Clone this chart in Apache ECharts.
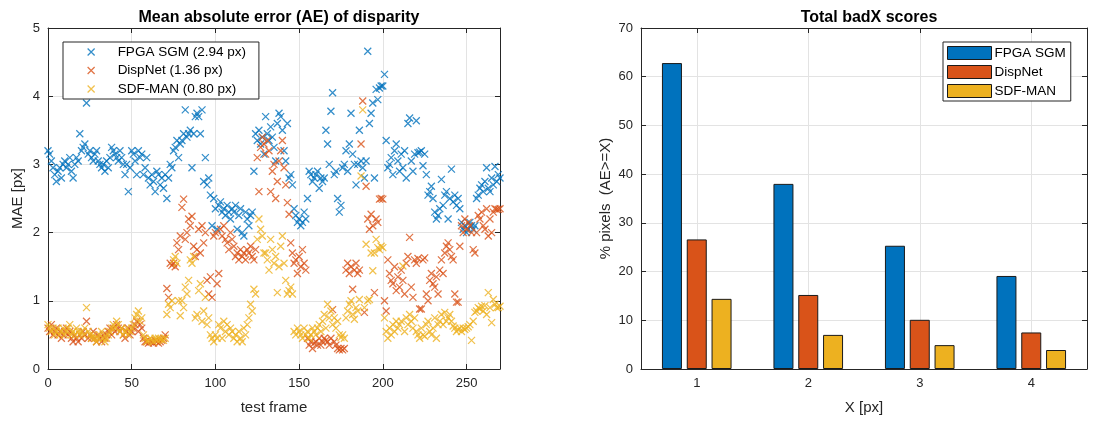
<!DOCTYPE html>
<html>
<head>
<meta charset="utf-8">
<script src="https://cdn.jsdelivr.net/npm/echarts@6/dist/echarts.min.js"></script>
<style>
  html, body { margin: 0; padding: 0; background: #fff; }
  #chart { width: 1094px; height: 421px; }
</style>
</head>
<body>
<div id="chart"></div>
<script>
// Per-frame mean absolute error of disparity, frames 0..270
const maeFPGA = [
  3.2, 3.15, 3.05, 2.95, 2.85, 2.75, 2.9, 2.95, 2.8, 3.0,
  3.05, 2.95, 3.0, 3.1, 2.9, 2.8, 3.0, 3.1, 3.05, 3.45,
  3.2, 3.25, 3.3, 3.9, 3.15, 3.2, 3.1, 3.05, 3.15, 3.2,
  3.05, 3.0, 2.95, 3.0, 2.9, 3.05, 2.95, 3.1, 3.25, 3.2,
  3.15, 3.1, 3.05, 3.2, 3.1, 3.0, 2.85, 3.0, 2.6, 2.95,
  3.2, 3.15, 3.05, 2.85, 3.2, 3.1, 3.15, 2.85, 2.95, 3.1,
  2.8, 2.7, 2.85, 2.75, 2.6, 2.9, 2.85, 2.7, 2.8, 2.65,
  2.85, 2.5, 2.8, 3.0, 2.95, 3.2, 3.25, 3.35, 3.1, 3.3,
  3.35, 3.45, 3.8, 3.4, 3.45, 3.5, 2.95, 3.45, 3.7, 3.75,
  3.7, 3.45, 3.8, 2.75, 3.1, 2.7, 2.8, 2.55, 2.1, 2.5,
  2.35, 2.05, 2.4, 2.45, 2.3, 2.35, 2.25, 2.4, 2.3, 2.2,
  2.35, 2.3, 2.4, 2.05, 2.25, 2.35, 2.0, 1.95, 2.3, 2.2,
  2.1, 2.25, 2.3, 2.9, 3.45, 3.35, 3.5, 3.3, 3.4, 3.15,
  3.7, 3.45, 3.35, 3.55, 3.4, 3.25, 3.05, 3.6, 3.75, 3.7,
  3.5, 3.2, 3.05, 3.6, 2.8, 2.85, 2.7, 2.35, 2.25, 2.15,
  2.2, 2.1, 2.15, 2.3, 2.2, 2.5, 2.9, 2.85, 2.75, 2.8,
  2.85, 2.9, 2.65, 2.8, 2.75, 2.8, 3.5, 3.3, 3.0, 3.78,
  4.05, 2.85, 2.9, 2.5, 2.3, 2.4, 2.95, 3.0, 3.2, 2.9,
  3.3, 3.75, 3.15, 3.0, 2.7, 3.0, 3.5, 3.05, 2.95, 2.8,
  3.05, 4.66, 3.6, 3.75, 3.9, 2.8, 4.1, 3.95, 4.12, 4.15,
  4.15, 4.32, 3.35, 2.95, 3.0, 3.1, 2.85, 3.2, 3.3, 3.05,
  2.9, 3.15, 2.95, 3.2, 2.8, 3.6, 3.68, 3.05, 2.9, 3.15,
  3.64, 3.17, 3.18, 3.2, 2.98, 3.15, 2.85, 2.55, 2.6, 2.68,
  2.5, 2.3, 2.2, 2.25, 2.35, 2.78, 2.4, 2.55, 2.6, 2.2,
  2.5, 2.93, 2.45, 2.55, 2.4, 2.5, 2.35, 2.15, 2.05, 2.1,
  2.0, 2.05, 2.15, 2.1, 2.05, 2.1, 2.5, 2.55, 2.65, 2.7,
  2.6, 2.75, 2.95, 2.65, 2.6, 2.8, 2.7, 2.97, 2.75, 2.85, 2.8
];
const maeDispNet = [
  0.6, 0.55, 0.65, 0.5, 0.55, 0.6, 0.5, 0.55, 0.45, 0.5,
  0.55, 0.6, 0.5, 0.55, 0.45, 0.4, 0.5, 0.45, 0.4, 0.5,
  0.45, 0.55, 0.5, 0.7, 0.45, 0.5, 0.45, 0.55, 0.45, 0.4,
  0.5, 0.45, 0.4, 0.5, 0.45, 0.5, 0.55, 0.6, 0.5, 0.6,
  0.55, 0.65, 0.6, 0.55, 0.6, 0.5, 0.45, 0.55, 0.6, 0.5,
  0.55, 0.6, 0.65, 0.7, 0.55, 0.65, 0.6, 0.45, 0.4, 0.4,
  0.38, 0.4, 0.4, 0.38, 0.42, 0.4, 0.38, 0.4, 0.42, 0.45,
  0.5, 1.18, 1.05, 1.55, 1.52, 1.55, 1.5, 1.85, 1.75, 1.95,
  2.37, 2.49, 1.9, 2.0, 2.2, 2.1, 2.24, 1.8, 1.65, 1.75,
  2.05, 1.7, 2.1, 1.85, 2.0, 1.3, 1.1, 1.35, 1.05, 1.95,
  2.0, 1.25, 1.4, 2.05, 1.95, 2.1, 1.9, 1.85, 1.75, 2.0,
  1.9, 1.8, 1.65, 1.7, 1.6, 1.75, 1.65, 1.7, 1.6, 1.75,
  1.7, 1.8, 1.65, 1.6, 1.75, 3.1, 2.6, 3.25, 3.4, 3.3,
  3.15, 3.35, 3.2, 2.6, 2.9, 3.0, 2.5, 2.75, 3.05, 3.2,
  3.35, 2.95, 2.7, 2.44, 2.27, 1.85, 1.7, 1.55, 1.6, 1.4,
  1.65, 1.5, 1.75, 1.55, 1.45, 0.45, 0.35, 0.4, 0.3, 0.38,
  0.4, 0.35, 0.45, 0.35, 0.4, 0.45, 0.42, 0.4, 0.35, 0.45,
  0.87, 0.4, 0.35, 0.3, 0.28, 0.3, 0.28, 0.3, 1.45, 1.55,
  1.4, 1.5, 1.17, 1.45, 1.55, 1.4, 1.45, 3.3, 3.93, 0.83,
  2.68, 2.2, 2.05, 2.27, 2.1, 1.12, 2.2, 2.15, 2.49, 2.5,
  2.49, 1.0, 0.85, 1.6, 1.4, 1.3, 1.25, 1.5, 1.15, 1.35,
  1.2, 1.45, 1.3, 1.1, 1.55, 1.65, 1.93, 1.2, 1.05, 1.6,
  1.55, 1.62, 0.88, 0.88, 1.6, 1.63, 1.1, 1.0, 1.3, 1.4,
  1.25, 1.2, 1.35, 1.1, 1.45, 1.6, 1.4, 1.7, 1.8, 1.85,
  1.75, 1.65, 1.6, 1.1, 0.98, 0.98, 1.8, 2.1, 2.0, 2.2,
  2.05, 2.15, 2.1, 2.0, 1.75, 1.7, 2.0, 2.25, 2.2, 2.3,
  2.1, 2.05, 2.35, 1.95, 2.2, 2.0, 2.3, 2.35, 2.34, 2.34, 2.35
];
const maeSDF = [
  0.65, 0.6, 0.55, 0.6, 0.5, 0.55, 0.6, 0.5, 0.55, 0.6,
  0.5, 0.55, 0.6, 0.65, 0.5, 0.55, 0.5, 0.6, 0.55, 0.5,
  0.55, 0.5, 0.6, 0.9, 0.55, 0.5, 0.45, 0.5, 0.45, 0.4,
  0.45, 0.5, 0.55, 0.45, 0.4, 0.45, 0.5, 0.55, 0.6, 0.65,
  0.6, 0.7, 0.65, 0.55, 0.6, 0.5, 0.55, 0.6, 0.5, 0.55,
  0.6, 0.65, 0.75, 0.8, 0.85, 0.7, 0.75, 0.5, 0.45, 0.4,
  0.42, 0.45, 0.43, 0.4, 0.45, 0.42, 0.45, 0.43, 0.44, 0.42,
  0.45, 0.8, 0.95, 0.9, 1.0, 1.6, 1.65, 1.55, 1.0, 0.78,
  1.0, 0.9, 1.2, 1.1, 1.3, 1.6, 1.55, 1.65, 0.75, 0.8,
  1.15, 1.25, 0.7, 0.85, 1.05, 0.65, 0.75, 0.5, 0.45, 0.4,
  0.5, 0.45, 0.65, 0.6, 0.45, 0.7, 0.55, 0.65, 0.5, 0.6,
  0.55, 0.45, 0.5, 0.4, 0.55, 0.45, 0.4, 0.6, 0.5, 0.65,
  0.75, 0.95, 0.85, 1.17, 1.1, 1.9, 2.2, 2.05, 1.95, 1.7,
  1.7, 1.6, 1.45, 1.9, 1.75, 1.55, 1.65, 1.12, 1.5, 1.8,
  1.95, 1.55, 1.3, 1.1, 1.15, 1.2, 1.1, 0.55, 0.5, 0.6,
  0.55, 0.5, 0.45, 0.6, 0.5, 0.55, 0.45, 0.5, 0.6, 0.55,
  0.5, 0.6, 0.65, 0.55, 0.7, 0.8, 0.6, 0.95, 0.75, 0.85,
  0.65, 0.75, 0.6, 0.7, 0.5, 0.46, 0.5, 0.45, 0.75, 0.85,
  0.95, 1.0, 0.8, 0.73, 0.9, 0.85, 1.02, 2.83, 3.8, 0.9,
  1.83, 1.0, 1.02, 1.7, 1.44, 1.7, 1.9, 1.78, 1.75, 1.8,
  1.78, 0.75, 0.55, 0.45, 0.6, 0.5, 0.65, 0.55, 0.7, 0.6,
  0.65, 0.7, 1.51, 0.55, 0.75, 0.65, 0.8, 0.7, 0.6, 0.75,
  0.55, 0.5, 0.45, 0.6, 0.5, 0.48, 0.65, 0.7, 0.55, 0.5,
  0.6, 0.75, 0.45, 0.65, 0.7, 0.8, 0.65, 0.83, 0.7, 0.75,
  0.8, 0.7, 0.63, 0.6, 0.55, 0.58, 0.6, 0.55, 0.6, 0.58,
  0.6, 0.62, 0.65, 0.42, 0.7, 0.83, 0.85, 0.9, 0.88, 0.92,
  0.85, 0.93, 0.8, 1.12, 0.9, 0.68, 1.02, 0.95, 0.9, 0.9, 0.92
];

// Total badX scores: % of pixels with AE >= X
const badXCategories = ['1', '2', '3', '4'];
const badFPGA = [62.8, 38.0, 25.3, 19.1];
const badDispNet = [26.6, 15.2, 10.1, 7.5];
const badSDF = [14.4, 7.0, 4.9, 3.9];

const scatterNames = ['FPGA SGM (2.94 px)', 'DispNet (1.36 px)', 'SDF-MAN (0.80 px)'];
const barNames = ['FPGA SGM', 'DispNet', 'SDF-MAN'];
const colors = ['#0072BD', '#D95319', '#EDB120'];

const FONT = '"Liberation Sans", Arial, Helvetica, sans-serif';
const AXIS = '#262626';
const GRID = '#e3e3e3';
const CROSS = 'path://M0,0L10,10M10,0L0,10';
const LABEL_SIZE = 15;

function toPoints(vals) {
  return vals.map((v, i) => [i, v]);
}

function frameAxis(gridIndex, position, showLabels, extra) {
  return Object.assign({
    gridIndex, position,
    axisLine: { show: true, onZero: false, lineStyle: { color: AXIS, width: 1 } },
    axisTick: { show: true, inside: true, length: 5, lineStyle: { color: AXIS } },
    axisLabel: { show: showLabels, color: AXIS, fontFamily: FONT, fontSize: 13, margin: 8 },
    splitLine: { show: false }
  }, extra);
}

const nameStyle = { fontFamily: FONT, fontSize: LABEL_SIZE, color: AXIS };

const chart = echarts.init(document.getElementById('chart'), null, { renderer: 'canvas' });

const scatterSeries = [maeFPGA, maeDispNet, maeSDF].map((vals, k) => ({
  type: 'scatter',
  name: scatterNames[k],
  xAxisIndex: 0, yAxisIndex: 0,
  data: toPoints(vals),
  symbol: CROSS,
  symbolSize: 7,
  itemStyle: { color: colors[k], borderColor: colors[k], borderWidth: 1.25 },
  emphasis: { disabled: true },
  silent: true
}));

const barSeries = [badFPGA, badDispNet, badSDF].map((vals, k) => ({
  type: 'bar',
  name: barNames[k],
  xAxisIndex: 2, yAxisIndex: 2,
  data: vals,
  barWidth: 20,
  barGap: '24%',
  itemStyle: { color: colors[k], borderColor: '#1a1a1a', borderWidth: 1 },
  emphasis: { disabled: true },
  silent: true
}));

chart.setOption({
  animation: false,
  backgroundColor: '#ffffff',
  textStyle: { fontFamily: FONT },
  title: [
    { text: 'Mean absolute error (AE) of disparity', left: 274, top: 5, textAlign: 'center',
      textStyle: { fontFamily: FONT, fontSize: 16, fontWeight: 'bold', color: '#000' } },
    { text: 'Total badX scores', left: 864, top: 5, textAlign: 'center',
      textStyle: { fontFamily: FONT, fontSize: 16, fontWeight: 'bold', color: '#000' } }
  ],
  legend: [
    {
      data: scatterNames,
      orient: 'vertical',
      left: 63, top: 42,
      padding: [3, 13, 3, 24],
      itemWidth: 7, itemHeight: 7,
      itemGap: 4.5,
      itemStyle: { borderWidth: 1.25 },
      backgroundColor: '#fff',
      borderColor: AXIS, borderWidth: 1,
      textStyle: { fontFamily: FONT, fontSize: 13.5, color: '#000', lineHeight: 14, padding: [0, 0, 0, 18] },
      selectedMode: false
    },
    {
      data: barNames,
      orient: 'vertical',
      left: 943, top: 42,
      padding: [4, 5, 3, 4],
      itemWidth: 44, itemHeight: 13,
      itemGap: 5,
      icon: 'rect',
      itemStyle: { borderWidth: 1, borderColor: '#1a1a1a' },
      backgroundColor: '#fff',
      borderColor: AXIS, borderWidth: 1,
      textStyle: { fontFamily: FONT, fontSize: 13.5, color: '#000', lineHeight: 13, padding: [0, 0, 0, -2] },
      selectedMode: false
    }
  ],
  grid: [
    { left: 48, right: 594, top: 28, bottom: 52 },
    { left: 641, right: 7, top: 28, bottom: 52 }
  ],
  xAxis: [
    frameAxis(0, 'bottom', true, {
      type: 'value', min: 0, max: 270, interval: 50,
      name: 'test frame', nameLocation: 'middle', nameGap: 31,
      nameTextStyle: nameStyle,
      axisLabel: { show: true, color: AXIS, fontFamily: FONT, fontSize: 13, margin: 8, showMaxLabel: false },
      splitLine: { show: true, lineStyle: { color: GRID, width: 1 } }
    }),
    frameAxis(0, 'top', false, { type: 'value', min: 0, max: 270, interval: 50 }),
    frameAxis(1, 'bottom', true, {
      type: 'category', data: badXCategories,
      name: 'X [px]', nameLocation: 'middle', nameGap: 31,
      nameTextStyle: nameStyle,
      axisTick: { show: true, inside: true, length: 5, alignWithLabel: true, lineStyle: { color: AXIS } },
      splitLine: { show: true, alignWithLabel: true, lineStyle: { color: GRID, width: 1 } }
    }),
    frameAxis(1, 'top', false, {
      type: 'category', data: badXCategories,
      axisTick: { show: true, inside: true, length: 5, alignWithLabel: true, lineStyle: { color: AXIS } }
    })
  ],
  yAxis: [
    frameAxis(0, 'left', true, {
      type: 'value', min: 0, max: 5, interval: 1,
      name: 'MAE [px]', nameLocation: 'middle', nameGap: 23,
      nameTextStyle: nameStyle,
      splitLine: { show: true, lineStyle: { color: GRID, width: 1 } }
    }),
    frameAxis(0, 'right', false, { type: 'value', min: 0, max: 5, interval: 1 }),
    frameAxis(1, 'left', true, {
      type: 'value', min: 0, max: 70, interval: 10,
      name: '% pixels  (AE>=X)', nameLocation: 'middle', nameGap: 28,
      nameTextStyle: nameStyle,
      splitLine: { show: true, lineStyle: { color: GRID, width: 1 } }
    }),
    frameAxis(1, 'right', false, { type: 'value', min: 0, max: 70, interval: 10 })
  ],
  series: scatterSeries.concat(barSeries)
});
</script>
</body>
</html>
